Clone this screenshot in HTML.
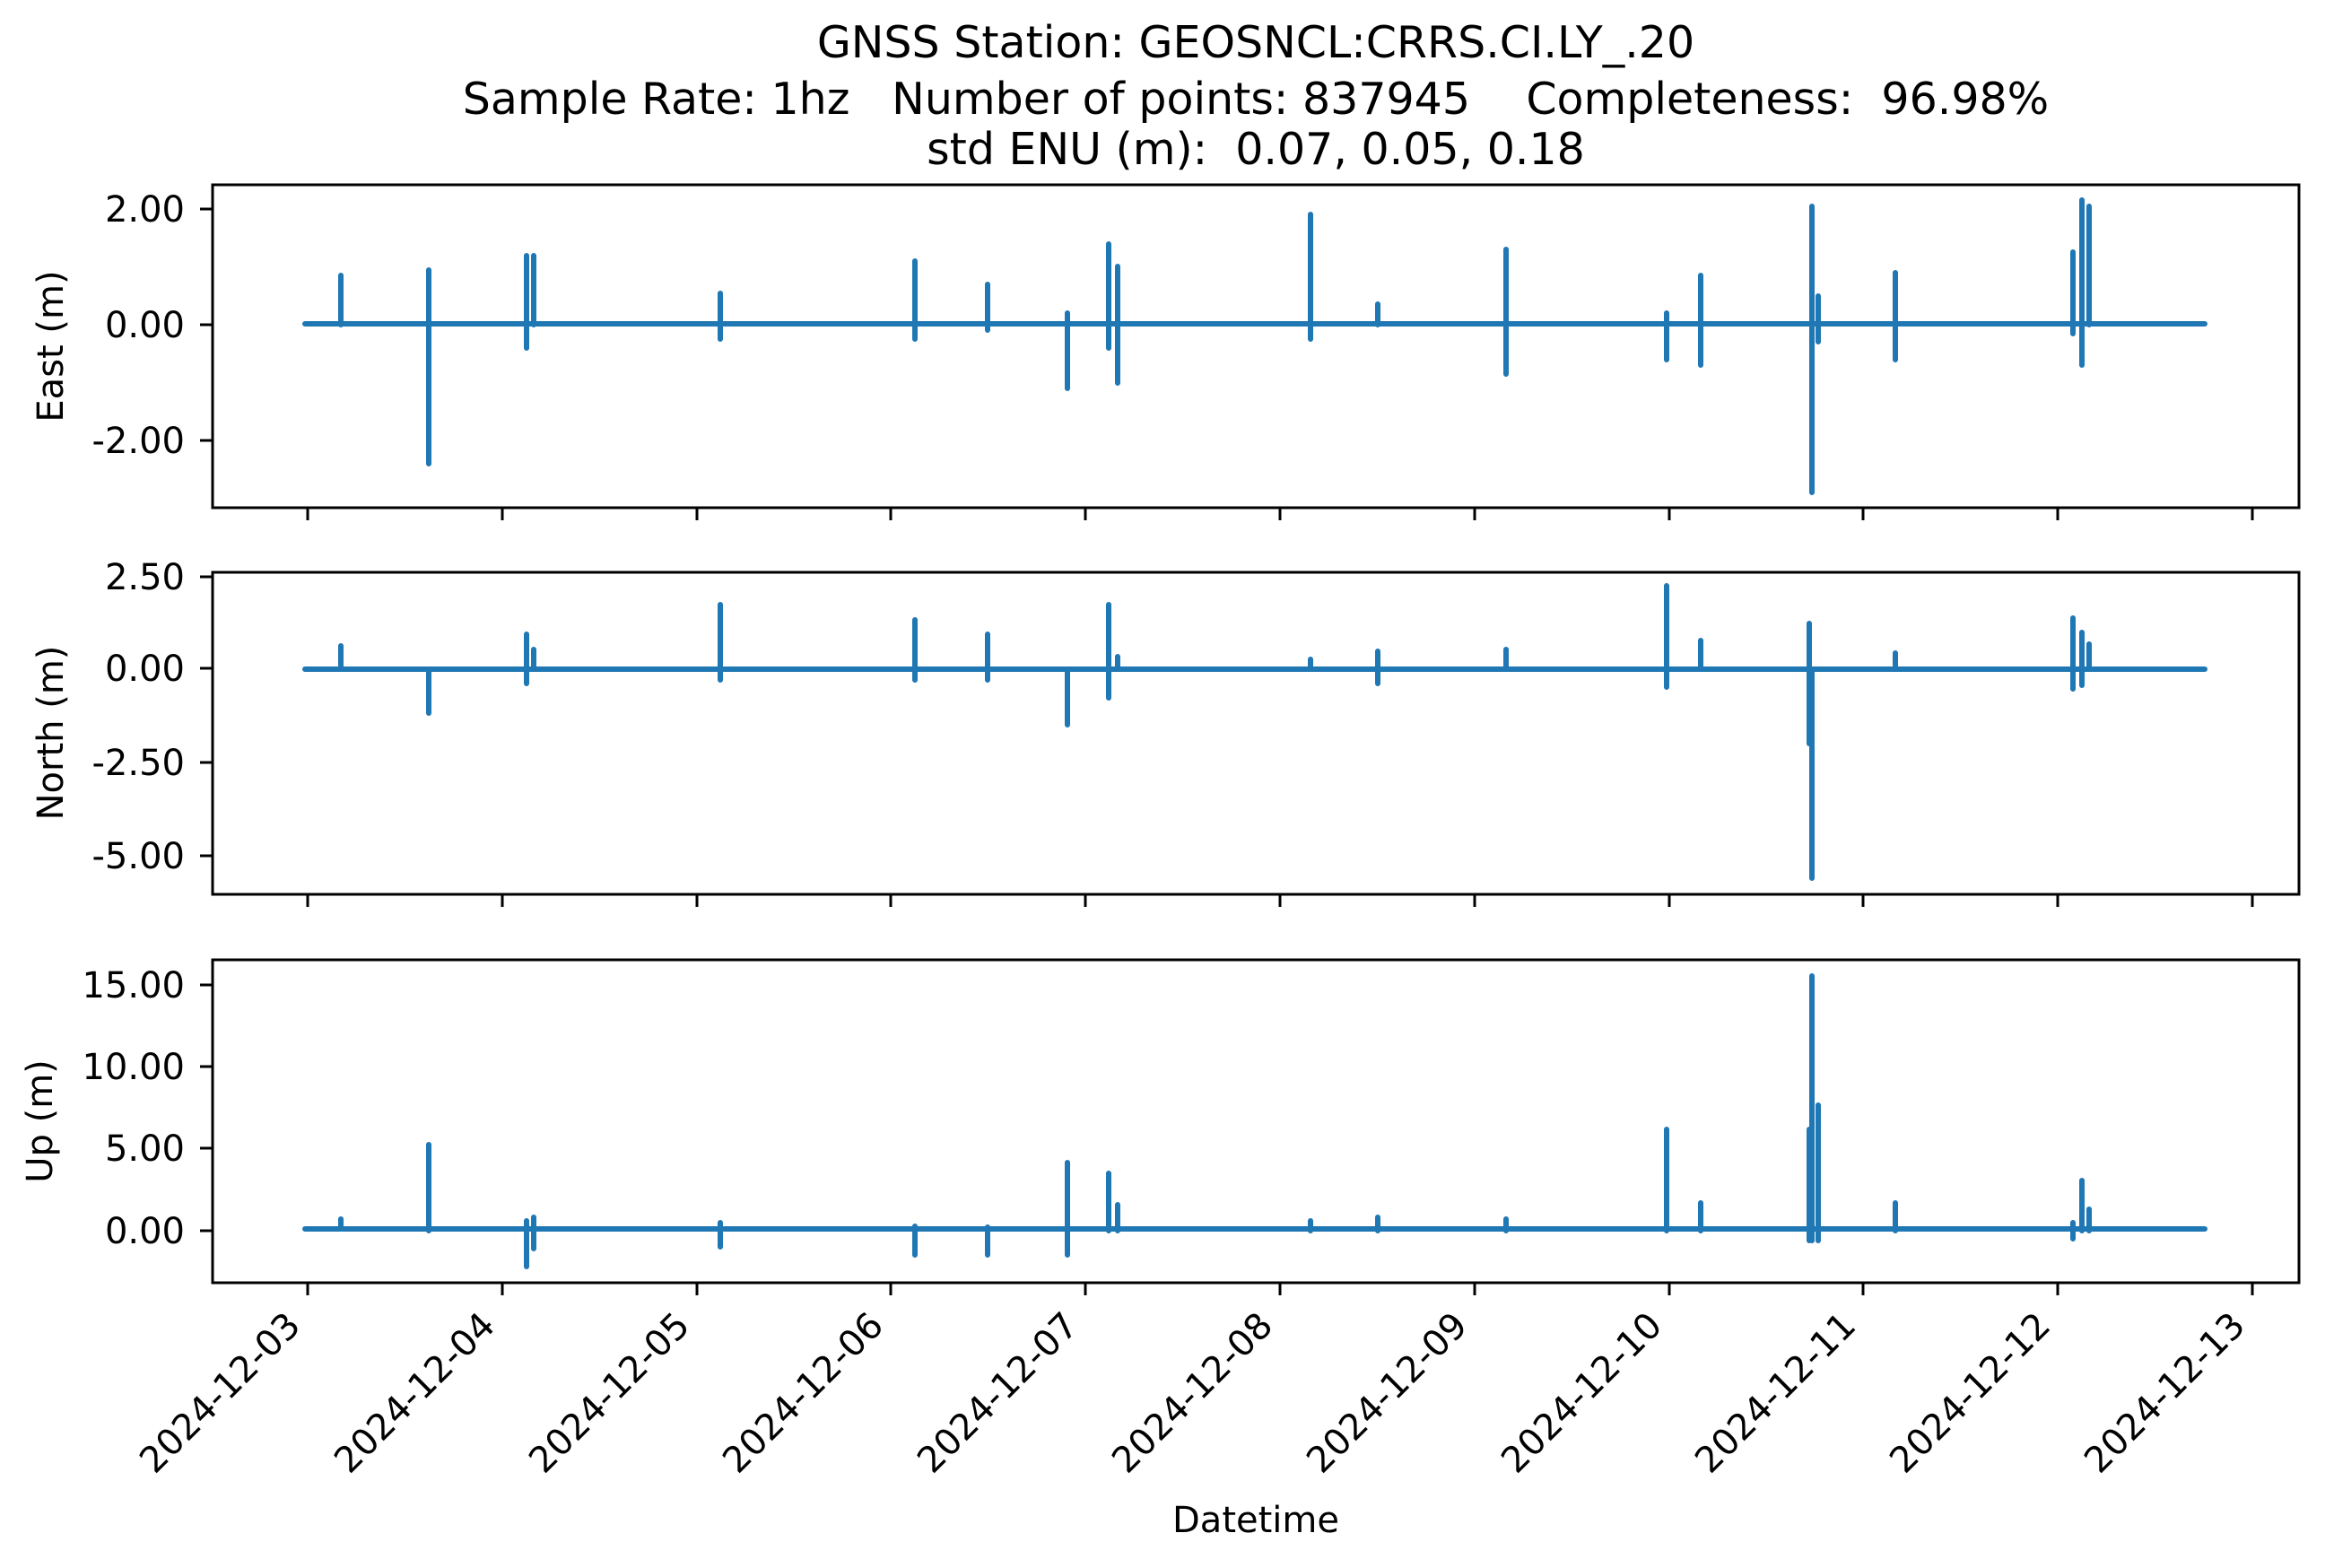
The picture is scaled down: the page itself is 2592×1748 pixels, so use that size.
<!DOCTYPE html>
<html><head><meta charset="utf-8"><style>html,body{margin:0;padding:0;background:#fff}svg{display:block}</style></head>
<body>
<svg width="2592" height="1748" viewBox="0 0 2592 1748" xmlns="http://www.w3.org/2000/svg" font-family="'DejaVu Sans','Liberation Sans',sans-serif">
<rect width="2592" height="1748" fill="#fff"/>
<g font-size="49" text-anchor="middle" fill="#000">
<text x="1400" y="64">GNSS Station: GEOSNCL:CRRS.CI.LY_.20</text>
<text x="1400" y="127" xml:space="preserve">Sample Rate: 1hz   Number of points: 837945    Completeness:  96.98%</text>
<text x="1400" y="183" xml:space="preserve">std ENU (m):  0.07, 0.05, 0.18</text>
</g>
<g stroke="#1f77b4" stroke-width="6" stroke-linecap="round" fill="none">
<path d="M340 361H2458M380 307V362M478 301V517M587 285V388M595 285V362M803 327V378M1020 291V378M1101 317V368M1190 349V433M1236 272V388M1246 297V427M1461 239V378M1536 339V362M1679 278V417M1858 349V401M1896 307V407M2020 230V549M2027 330V381M2113 304V401M2311 281V372M2321 223V407M2329 230V362"/>
<path d="M340 746H2458M380 720V746M478 746V795M587 707V762M595 724V746M803 674V758M1020 691V758M1101 707V758M1190 746V808M1236 674V778M1246 732V746M1461 735V746M1536 726V762M1679 724V746M1858 653V766M1896 714V746M2017 695V829M2020 746V979M2113 728V746M2311 689V768M2321 705V764M2329 718V746"/>
<path d="M340 1370H2458M380 1359V1370M478 1276V1372M587 1361V1412M595 1357V1392M803 1363V1390M1020 1367V1399M1101 1368V1399M1190 1296V1399M1236 1308V1372M1246 1343V1372M1461 1361V1372M1536 1357V1372M1679 1359V1372M1858 1259V1372M1896 1341V1372M2017 1259V1383M2020 1088V1383M2027 1232V1383M2113 1341V1372M2311 1363V1381M2321 1316V1372M2329 1348V1372"/>
</g>
<g stroke="#000" stroke-width="3" fill="none">
<rect x="237" y="206" width="2326" height="360"/>
<rect x="237" y="638" width="2326" height="359"/>
<rect x="237" y="1070" width="2326" height="360"/>
<path d="M223 233H237M223 362H237M223 491H237M223 643H237M223 745H237M223 850H237M223 954H237M223 1098H237M223 1189H237M223 1280H237M223 1372H237"/>
<path d="M343 566v14M560 566v14M777 566v14M993 566v14M1210 566v14M1427 566v14M1644 566v14M1861 566v14M2077 566v14M2294 566v14M2511 566v14
M343 997v14M560 997v14M777 997v14M993 997v14M1210 997v14M1427 997v14M1644 997v14M1861 997v14M2077 997v14M2294 997v14M2511 997v14
M343 1430v14M560 1430v14M777 1430v14M993 1430v14M1210 1430v14M1427 1430v14M1644 1430v14M1861 1430v14M2077 1430v14M2294 1430v14M2511 1430v14"/>
</g>
<g font-size="40" text-anchor="end" fill="#000">
<text x="206" y="247">2.00</text><text x="206" y="376">0.00</text><text x="206" y="505">-2.00</text>
<text x="206" y="657">2.50</text><text x="206" y="759">0.00</text><text x="206" y="864">-2.50</text><text x="206" y="968">-5.00</text>
<text x="206" y="1112">15.00</text><text x="206" y="1203">10.00</text><text x="206" y="1294">5.00</text><text x="206" y="1386">0.00</text>
</g>
<g font-size="40" text-anchor="middle" fill="#000">
<text transform="translate(70,386) rotate(-90)">East (m)</text>
<text transform="translate(70,817) rotate(-90)">North (m)</text>
<text transform="translate(58,1250) rotate(-90)">Up (m)</text>
<text x="1400" y="1708">Datetime</text>
</g>
<g font-size="40" text-anchor="end" fill="#000">
<text transform="translate(337,1480) rotate(-45)">2024-12-03</text>
<text transform="translate(554,1480) rotate(-45)">2024-12-04</text>
<text transform="translate(771,1480) rotate(-45)">2024-12-05</text>
<text transform="translate(987,1480) rotate(-45)">2024-12-06</text>
<text transform="translate(1204,1480) rotate(-45)">2024-12-07</text>
<text transform="translate(1421,1480) rotate(-45)">2024-12-08</text>
<text transform="translate(1638,1480) rotate(-45)">2024-12-09</text>
<text transform="translate(1855,1480) rotate(-45)">2024-12-10</text>
<text transform="translate(2071,1480) rotate(-45)">2024-12-11</text>
<text transform="translate(2288,1480) rotate(-45)">2024-12-12</text>
<text transform="translate(2505,1480) rotate(-45)">2024-12-13</text>
</g>
</svg>
</body></html>
